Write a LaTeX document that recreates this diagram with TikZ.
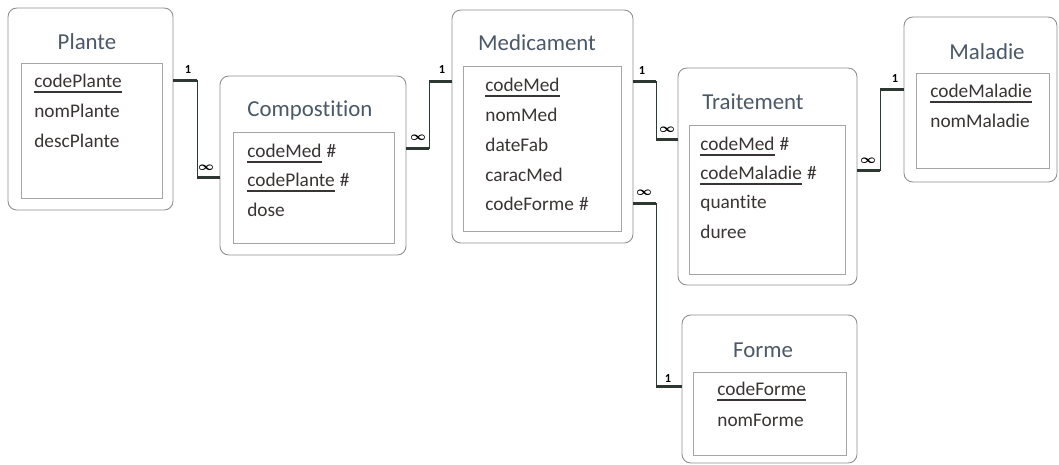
\documentclass[tikz,border=0pt]{standalone}
\usepackage{amsmath}
\usepackage{fontspec}
\setmainfont{Carlito}[Ligatures=NoCommon]
\usetikzlibrary{fit,calc}
\definecolor{boxc}{HTML}{8E8E8E}
\definecolor{titc}{HTML}{4A5868}
\definecolor{txtc}{HTML}{3A3434}
\definecolor{relc}{HTML}{2E3833}
\newcommand{\kfield}[4]{\node[field] (#1) at (#2,#3) {#4};
  \draw[key] ($(#1.base west)+(0,5)$) -- ($(#1.base east)+(0,5)$);}
\newcommand{\hfield}[1]{\node[field] (#1h) at ([xshift=2.5pt]#1.base east) {\#};}
\begin{document}
\begin{tikzpicture}[x=0.02cm,y=-0.02cm,
 outerbox/.style={draw=boxc, line width=0.5pt, rounded corners=5pt, inner sep=0},
 innerbox/.style={draw=boxc!80, line width=0.4pt, inner sep=0},
 title/.style={font=\fontsize{13}{15}\selectfont, text=titc, inner sep=0},
 field/.style={font=\fontsize{11}{13}\selectfont, text=txtc, inner sep=0, anchor=base west},
 key/.style={draw=txtc, line width=0.9pt},
 rel/.style={draw=relc, line width=0.7pt},
 stub/.style={draw=relc, line width=2pt},
 card/.style={font=\fontsize{7}{8}\selectfont, text=black, inner sep=0}]
\useasboundingbox[fill=white] (0,0) rectangle (1059,464);

% Plante
\node[outerbox, fit={(8,8) (173,210)}] (plante) {};
\node[innerbox, fit={(21,63) (162,198)}] (plantei) {};
\node[title] (plantet) at (87,42) {Plante};
\kfield{pf1}{34}{87}{codePlante}
\node[field] (pf2) at (34,117) {nomPlante};
\node[field] (pf3) at (34,147) {descPlante};

% Compostition
\node[outerbox, fit={(220,76) (406,255)}] (compo) {};
\node[innerbox, fit={(233,132) (394,243)}] (compoi) {};
\node[title] (compot) at (310,110) {Compostition};
\kfield{cf1}{247}{157}{codeMed}\hfield{cf1}
\kfield{cf2}{247}{186}{codePlante}\hfield{cf2}
\node[field] (cf3) at (247,216) {dose};

% Medicament
\node[outerbox, fit={(452,10) (633,243)}] (med) {};
\node[innerbox, fit={(463,66) (621,231)}] (medi) {};
\node[title] (medt) at (537,43) {Medicament};
\kfield{mf1}{485}{91}{codeMed}
\node[field] (mf2) at (485,121) {nomMed};
\node[field] (mf3) at (485,151) {dateFab};
\node[field] (mf4) at (485,181) {caracMed};
\node[field] (mf5) at (485,210) {codeForme};\hfield{mf5}

% Traitement
\node[outerbox, fit={(678,68) (857,285)}] (trait) {};
\node[innerbox, fit={(689,125) (845,274)}] (traiti) {};
\node[title] (traitt) at (753,102) {Traitement};
\kfield{tf1}{700}{150}{codeMed}\hfield{tf1}
\kfield{tf2}{700}{179}{codeMaladie}\hfield{tf2}
\node[field] (tf3) at (700,208) {quantite};
\node[field] (tf4) at (700,238) {duree};

% Maladie
\node[outerbox, fit={(904,17) (1057,182)}] (mal) {};
\node[innerbox, fit={(916,73) (1049,168)}] (mali) {};
\node[title] (malt) at (987,52) {Maladie};
\kfield{lf1}{930}{97}{codeMaladie}
\node[field] (lf2) at (930,127) {nomMaladie};

% Forme
\node[outerbox, fit={(682,315) (857,463)}] (forme) {};
\node[innerbox, fit={(693,372) (846,455)}] (formei) {};
\node[title] (formet) at (763,350) {Forme};
\kfield{ff1}{717}{395}{codeForme}
\node[field] (ff2) at (717,426) {nomForme};

% Relations
% Plante - Compostition
\coordinate (r1a) at ($(plante.north east)+(0,73)$);
\coordinate (r1b) at ($(compo.north west)+(0,102)$);
\draw[rel] (r1a) -- ++(24,0) coordinate (r1c) |- (r1b) coordinate[pos=0.5] (r1d);
\draw[stub] (r1a) -- (r1c);
\draw[stub] (r1b) -- (r1d);
\node[card] (c1a) at (188,70) {$\mathbf{1}$};
\node[card] (c1b) at (206,168) {$\boldsymbol{\infty}$};

% Compostition - Medicament
\coordinate (r2a) at ($(compo.north east)+(0,73)$);
\coordinate (r2b) at ($(med.north west)+(0,72)$);
\draw[rel] (r2a) -- ++(23,0) coordinate (r2c) |- (r2b) coordinate[pos=0.5] (r2d);
\draw[stub] (r2a) -- (r2c);
\draw[stub] (r2b) -- (r2d);
\node[card] (c2a) at (418,138) {$\boldsymbol{\infty}$};
\node[card] (c2b) at (442,70) {$\mathbf{1}$};

% Medicament - Traitement
\coordinate (r3a) at ($(med.north east)+(0,72)$);
\coordinate (r3b) at ($(trait.north west)+(0,72)$);
\draw[rel] (r3a) -- ++(23,0) coordinate (r3c) |- (r3b) coordinate[pos=0.5] (r3d);
\draw[stub] (r3a) -- (r3c);
\draw[stub] (r3b) -- (r3d);
\node[card] (c3a) at (642,71) {$\mathbf{1}$};
\node[card] (c3b) at (667,130) {$\boldsymbol{\infty}$};

% Medicament - Forme
\coordinate (r4a) at ($(med.north east)+(0,194)$);
\coordinate (r4b) at ($(forme.north west)+(0,72)$);
\draw[rel] (r4a) -- ++(23,0) coordinate (r4c) |- (r4b) coordinate[pos=0.5] (r4d);
\draw[stub] (r4a) -- (r4c);
\draw[stub] (r4b) -- (r4d);
\node[card] (c4a) at (644,193) {$\boldsymbol{\infty}$};
\node[card] (c4b) at (668,378) {$\mathbf{1}$};

% Traitement - Maladie
\coordinate (r5a) at ($(trait.north east)+(0,103)$);
\coordinate (r5b) at ($(mal.north west)+(0,73)$);
\draw[rel] (r5a) -- ++(23,0) coordinate (r5c) |- (r5b) coordinate[pos=0.5] (r5d);
\draw[stub] (r5a) -- (r5c);
\draw[stub] (r5b) -- (r5d);
\node[card] (c5a) at (868,161) {$\boldsymbol{\infty}$};
\node[card] (c5b) at (895,79) {$\mathbf{1}$};
\end{tikzpicture}
\end{document}
